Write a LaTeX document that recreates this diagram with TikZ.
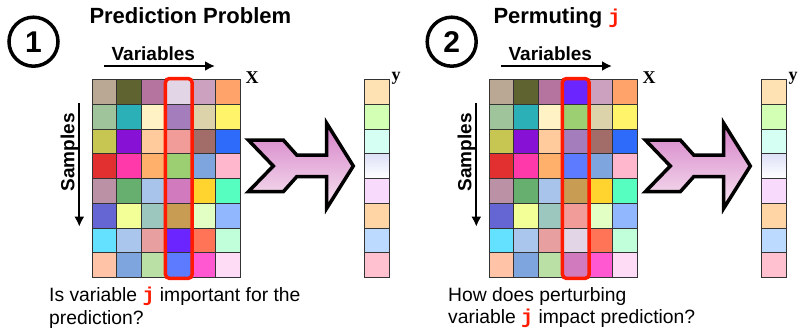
\documentclass[tikz,border=0pt]{standalone}
\usepackage{fontspec}
\setmainfont{Liberation Sans}
\newfontfamily\labelfont{Liberation Serif}
\newfontfamily\jfont{Liberation Mono}
\usetikzlibrary{arrows.meta,positioning,fit}

\definecolor{markred}{HTML}{FF1A00}
\definecolor{arrowtop}{HTML}{D47EC6}
\definecolor{arrowbot}{HTML}{F8E6F2}
\newcommand{\jvar}{{\jfont\bfseries\fontsize{20}{20}\selectfont\color{markred}j}}

\begin{document}
\begin{tikzpicture}[x=1pt, y=-1pt,
    cell/.style={draw=black!80, line width=0.9pt, minimum size=24.75pt,
                 inner sep=0pt, anchor=north west},
    ycell/.style={cell, minimum width=25pt},
    markbox/.style={draw=markred, line width=3.5pt, rounded corners=4pt, inner sep=0.5pt},
    num/.style={draw, circle, line width=3.5pt, minimum size=49pt, inner sep=0pt,
                font=\fontsize{30}{30}\selectfont\bfseries},
    title/.style={anchor=base west, inner sep=0pt, font=\fontsize{22}{26}\selectfont\bfseries},
    axislabel/.style={anchor=base, inner sep=0pt, font=\fontsize{19}{22}\selectfont\bfseries},
    axis/.style={-{Latex[length=10pt,width=10pt]}, line width=2pt},
    matlabel/.style={anchor=base, inner sep=0pt, font=\fontsize{18}{18}\labelfont\bfseries},
    question/.style={anchor=north west, align=left, inner sep=0pt,
                     font=\fontsize{19.3}{22.5}\selectfont},
    bigarrow/.style={draw, line width=3.5pt, line join=miter,
                     top color=arrowtop, bottom color=arrowbot}]

  \useasboundingbox (0,0) rectangle (805,329);

  \node[num] (n1) at (33.5,41.7) {1};
  \node[num] (n2) at (451.7,41.7) {2};
  \node[title] (t1) at (89.3,24) {Prediction Problem};
  \node[title] (t2) at (493.3,24) {Permuting \jvar};

  \foreach \dx [count=\p] in {0,397} {
    \begin{scope}[xshift=\dx pt]
      % data matrix X (column j of panel 2 is drawn below)
      \foreach \row [count=\r] in {{BAA895,5E6330,B5739F,E2D5E6,CCA1C0,FFA36B},
                                   {9FC49C,2BB0B8,FFF2C4,A47DBD,DCD3AA,FFF46A},
                                   {C8C653,8811D6,FFCB9D,F19C98,A26D69,2F6BFA},
                                   {E1302F,FF39AA,FFB16C,9BCF71,7FA5DE,FFB7CE},
                                   {BB92A5,67AF6E,A9C4EA,D27ABE,FFD42E,56FFBF},
                                   {6565D4,F3FF97,9CC7BE,C89C52,E2FFC4,91B7FF},
                                   {64E1FF,ABC6EC,E89F9F,6B25FF,FF7456,C0FFDA},
                                   {FFC4A7,7EA5DE,BBE0A6,5C7BFF,FF58D1,FFDCF5}}
        \foreach \hex [count=\c] in \row {
          \ifnum\p\c=24 \else
            \definecolor{cellfill}{HTML}{\hex}
            \node[cell, fill=cellfill] (x\p-\r-\c)
              at ({91.7+24.75*(\c-1)},{79+24.75*(\r-1)}) {};
          \fi
        }
      \ifnum\p=2
        \foreach \hex [count=\r] in {6B25FF,9BCF71,A47DBD,5C7BFF,C89C52,F19C98,E2D5E6,D27ABE} {
          \definecolor{cellfill}{HTML}{\hex}
          \node[cell, fill=cellfill] (x2-\r-4) at ({91.7+24.75*3},{79+24.75*(\r-1)}) {};
        }
      \fi
      \node[markbox, fit=(x\p-1-4)(x\p-8-4)] (jbox\p) {};

      % target vector y
      \foreach \hex [count=\r] in {FFE2B4,D3FFB5,D6FFF3,DDE0F7,F8DBFC,FFD5A5,BCDAFF,FFC1CF} {
        \definecolor{cellfill}{HTML}{\hex}
        \ifnum\r=4
          \node[ycell, top color=cellfill, bottom color=white] (y\p-\r)
            at (364,{79+24.75*(\r-1)}) {};
        \else
          \node[ycell, fill=cellfill] (y\p-\r) at (364,{79+24.75*(\r-1)}) {};
        \fi
      }

      \node[matlabel] (xlab\p) at (252,83) {X};
      \node[matlabel] (ylab\p) at (396,81) {y};

      \node[axislabel] (vars\p) at (153.3,60) {Variables};
      \coordinate (vs\p) at (104,66);
      \coordinate (ve\p) at (215,66);
      \draw[axis] (vs\p) -- (ve\p);

      \node[axislabel, rotate=90] (samp\p) at (74.3,152.5) {Samples};
      \coordinate (ss\p) at (79.3,103.3);
      \coordinate (se\p) at (79.3,226.7);
      \draw[axis] (ss\p) -- (se\p);

      \draw[bigarrow] (248.3,140) -- ++(35,0) -- ++(13.4,15) -- ++(30,0) -- ++(0,-31.7)
        -- ++(26.6,42.7) -- ++(-26.6,42.3) -- ++(0,-31.6) -- ++(-30,0) -- ++(-13.4,15)
        -- ++(-35,0) -- ++(25,-25.7) -- cycle;
    \end{scope}
  }

  \node[question] (q1) at (49,287) {Is variable \jvar{} important for the\\prediction?};
  \node[question] (q2) at (448,287) {How does perturbing\\variable \jvar{} impact prediction?};
\end{tikzpicture}
\end{document}
